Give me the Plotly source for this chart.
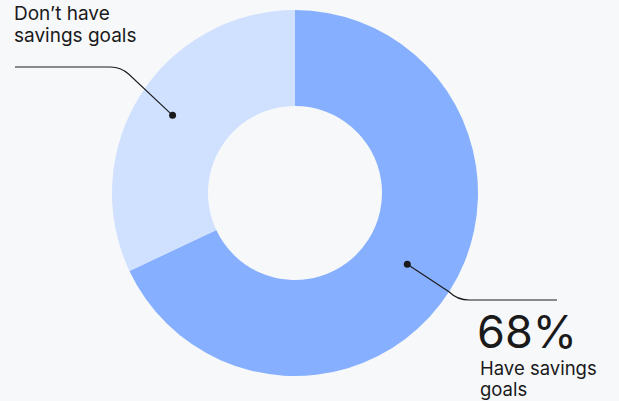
import math
import plotly.graph_objects as go

# Share of respondents with and without savings goals
labels = ["Have savings goals", "Don’t have savings goals"]
values = [68, 32]
colors = ["#86B0FF", "#D0E0FF"]

W, H = 619, 401
CX, CY, R_OUT, R_IN = 295, 193, 183, 87
BG = "#F7F8FA"
INK = "#1A1A1A"
FONT = "Inter, sans-serif"

fig = go.Figure()

fig.add_trace(go.Pie(
    labels=labels,
    values=values,
    hole=R_IN / R_OUT,
    sort=False,
    direction="clockwise",
    rotation=0,
    marker=dict(colors=colors, line=dict(width=0)),
    textinfo="none",
    hoverinfo="label+percent",
    showlegend=False,
    domain=dict(
        x=[(CX - R_OUT) / W, (CX + R_OUT) / W],
        y=[1 - (CY + R_OUT) / H, 1 - (CY - R_OUT) / H],
    ),
))

# Mid-angle of each slice (clockwise from 12 o'clock) for the leader-line dots
total = sum(values)
mids = []
acc = 0
for v in values:
    mids.append((acc + v / 2) / total * 2 * math.pi)
    acc += v


def point_at(angle, rho):
    return CX + rho * math.sin(angle), CY - rho * math.cos(angle)


shapes = []
dot_r = 3.5

# Leader for "Have savings goals" (lower right)
x1, y1 = point_at(mids[0], 133)
hy = 300
shapes.append(dict(
    type="path", xref="x", yref="y",
    path=f"M {x1:.1f} {y1:.1f} L {x1 + 42:.1f} {hy - 8:.1f} Q {x1 + 50:.1f} {hy} {x1 + 62:.1f} {hy} L 557 {hy}",
    line=dict(color=INK, width=1.1),
))
shapes.append(dict(type="circle", xref="x", yref="y",
                   x0=x1 - dot_r, x1=x1 + dot_r, y0=y1 - dot_r, y1=y1 + dot_r,
                   fillcolor=INK, line=dict(width=0)))

# Leader for "Don't have savings goals" (upper left)
x2, y2 = point_at(mids[1], 145)
hy2 = 67
shapes.append(dict(
    type="path", xref="x", yref="y",
    path=f"M 15 {hy2} L {x2 - 62:.1f} {hy2} Q {x2 - 52:.1f} {hy2} {x2 - 44:.1f} {hy2 + 7:.1f} L {x2:.1f} {y2:.1f}",
    line=dict(color=INK, width=1.1),
))
shapes.append(dict(type="circle", xref="x", yref="y",
                   x0=x2 - dot_r, x1=x2 + dot_r, y0=y2 - dot_r, y1=y2 + dot_r,
                   fillcolor=INK, line=dict(width=0)))


def label(text, x, y, size):
    return dict(text=text, x=x, y=y, xref="x", yref="y",
                xanchor="left", yanchor="middle", showarrow=False,
                borderpad=0,
                font=dict(family=FONT, size=size, color=INK))


annotations = [
    label("Don’t have", 13, 13.5, 19),
    label("savings goals", 13, 35, 19),
    label(f"{values[0]}%", 476, 331, 45),
    label("Have savings", 479, 368, 18.5),
    label("goals", 479, 389, 18.5),
]

fig.update_layout(
    width=W, height=H,
    margin=dict(l=0, r=0, t=0, b=0),
    paper_bgcolor=BG, plot_bgcolor=BG,
    xaxis=dict(range=[0, W], visible=False, domain=[0, 1], fixedrange=True),
    yaxis=dict(range=[H, 0], visible=False, domain=[0, 1], fixedrange=True),
    shapes=shapes,
    annotations=annotations,
)

fig.write_html("out.html")
